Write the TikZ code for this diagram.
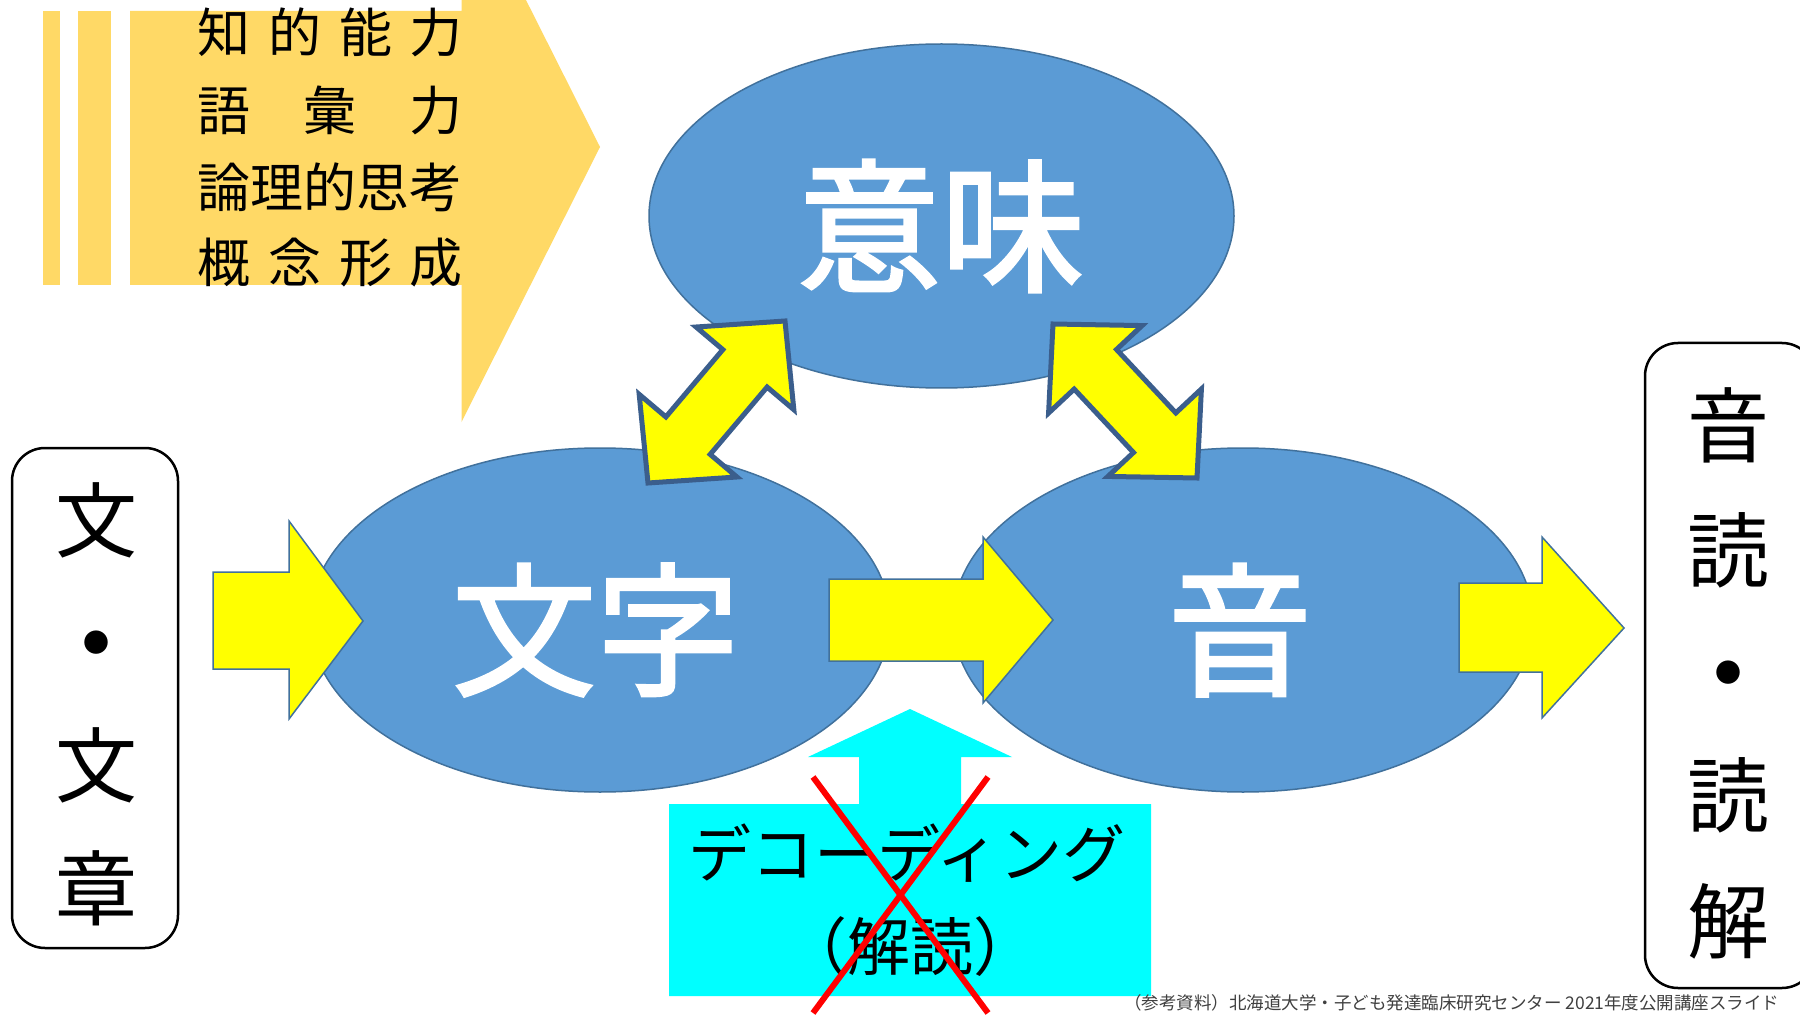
\documentclass[tikz,border=0pt]{standalone}
\usepackage{fontspec}
\setmainfont{Noto Sans CJK JP}
\newfontfamily\medfont[FakeBold=2]{Noto Sans CJK JP}
\usetikzlibrary{calc,shapes.geometric}
\definecolor{ellfill}{HTML}{5B9BD5}
\definecolor{elldraw}{HTML}{41719C}
\definecolor{gold}{HTML}{FFD966}
\definecolor{dblborder}{RGB}{59,94,140}
\definecolor{footgray}{HTML}{404040}
\definecolor{pureyellow}{RGB}{255,255,0}
\definecolor{aqua}{RGB}{0,255,255}
\definecolor{purered}{RGB}{255,0,0}
\newcommand\dblarr[2]{%
  \filldraw[dblarrow] (#1)
   -- ($(#1)!62pt!(#2)!64pt!90:(#2)$) -- ($(#1)!62pt!(#2)!29pt!90:(#2)$)
   -- ($(#2)!62pt!(#1)!29pt!-90:(#1)$) -- ($(#2)!62pt!(#1)!64pt!-90:(#1)$)
   -- (#2)
   -- ($(#2)!62pt!(#1)!64pt!90:(#1)$) -- ($(#2)!62pt!(#1)!29pt!90:(#1)$)
   -- ($(#1)!62pt!(#2)!29pt!-90:(#2)$) -- ($(#1)!62pt!(#2)!64pt!-90:(#2)$)
   -- cycle;}
\begin{document}
\begin{tikzpicture}[x=1pt,y=-1pt,
  blob/.style={ellipse,fill=ellfill,draw=elldraw,line width=1.5pt,inner sep=0pt,minimum width=580pt,minimum height=344pt},
  bigtext/.style={text=white,inner sep=0pt,font=\fontsize{144}{150}\medfont},
  yarrow/.style={fill=pureyellow,draw=elldraw,line width=1.5pt,line join=miter},
  dblarrow/.style={fill=pureyellow,draw=dblborder,line width=5pt,line join=miter,miter limit=10},
  boxchar/.style={inner sep=0pt,font=\fontsize{82}{90}\selectfont},
  goldtext/.style={inner sep=0pt,anchor=east,font=\fontsize{53}{60}\selectfont},
  sidebox/.style={draw=black,line width=2.5pt,rounded corners=33pt},
  decotext/.style={inner sep=0pt,font=\fontsize{63}{70}\selectfont},
  dotchar/.style={inner sep=0pt,font=\fontsize{26}{30}\selectfont}]
\useasboundingbox (0,0) rectangle (1800,1016);
\fill[white] (0,0) rectangle (1800,1016);

% gold striped arrow
\fill[gold] (42.5,11) rectangle (59.7,285);
\fill[gold] (78,11) rectangle (111,285);
\fill[gold] (130,11) -- (461.5,11) -- (461.5,-128) -- (600,147) -- (461.5,422) -- (461.5,285) -- (130,285) -- cycle;
\node[goldtext] (g1) at (463,32) {\makebox[265pt][s]{知\hfill 的\hfill 能\hfill 力}};
\node[goldtext] (g2) at (463,110) {\makebox[265pt][s]{語\hfill 彙\hfill 力}};
\node[goldtext] (g3) at (463,187) {\makebox[265pt][s]{論\hfill 理\hfill 的\hfill 思\hfill 考}};
\node[goldtext] (g4) at (463,263) {\makebox[265pt][s]{概\hfill 念\hfill 形\hfill 成}};

% ellipses
\node[blob,minimum width=585pt] (imi) at (941.5,216) {};
\node[blob] (moji) at (600,620) {};
\node[blob] (oto) at (1243,620) {};
\node[bigtext] (imit) at (941,226) {意味};
\node[bigtext] (mojit) at (596,630) {文字};
\node[bigtext] (otot) at (1240,630) {音};

% horizontal arrows
\filldraw[yarrow] (213,572) -- (289,572) -- (289,521) -- (363,621) -- (289,719) -- (289,669) -- (213,669) -- cycle;
\filldraw[yarrow] (829,579) -- (983,579) -- (983,537) -- (1053,620) -- (983,703) -- (983,661) -- (829,661) -- cycle;
\filldraw[yarrow] (1459,583) -- (1542,583) -- (1542,537) -- (1624,628) -- (1542,718) -- (1542,672) -- (1459,672) -- cycle;

% double arrows
\coordinate (la) at (648,483);
\coordinate (lb) at (785,321);
\coordinate (ra) at (1197,478);
\coordinate (rb) at (1053,324);
\dblarr{la}{lb}
\dblarr{ra}{rb}

% decoding
\fill[aqua] (669,804) -- (859,804) -- (859,757) -- (808,757) -- (910,709) -- (1012,757) -- (961,757) -- (961,804) -- (1151,804) -- (1151,996) -- (669,996) -- cycle;
\node[decotext] (deco) at (907,853) {デコーディング};
\node[decotext] (kaidoku) at (910,947) {（解読）};
\draw[purered,line width=6pt] (813,777) -- (988,1013);
\draw[purered,line width=6pt] (988,777) -- (813,1013);

% side boxes
\draw[sidebox] (12,448) rectangle (178,948);
\node[boxchar] (b1) at (96,520) {文};
\node[dotchar] (b2) at (96,643) {●};
\node[boxchar] (b3) at (96,765) {文};
\node[boxchar] (b4) at (96,888) {章};

\draw[sidebox] (1645,343) rectangle (1815,988);
\node[boxchar] (c1) at (1728,425) {音};
\node[boxchar] (c2) at (1728,550) {読};
\node[dotchar] (c3) at (1728,673) {●};
\node[boxchar] (c4) at (1728,795) {読};
\node[boxchar] (c5) at (1728,921) {解};

% footer
\node[inner sep=0pt,anchor=west,text=footgray,font=\fontsize{17.5}{20}\selectfont] (foot) at (1124,1003) {（参考資料）北海道大学・子ども発達臨床研究センター 2021年度公開講座スライド};
\end{tikzpicture}
\end{document}
